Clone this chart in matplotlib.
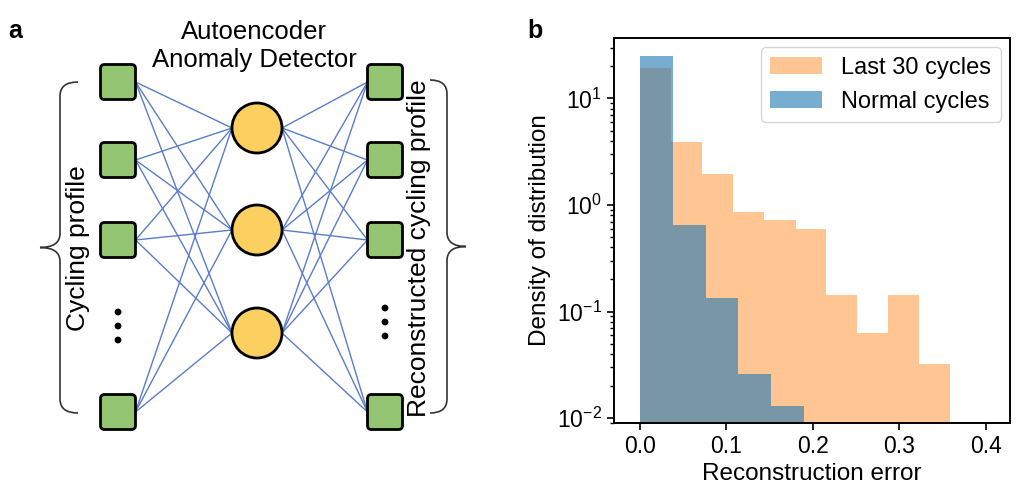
import numpy as np
import matplotlib
matplotlib.use('Agg')
import matplotlib.pyplot as plt
from matplotlib.patches import FancyBboxPatch, Circle, PathPatch
from matplotlib.path import Path

plt.rcParams['font.family'] = ['Liberation Sans', 'DejaVu Sans']

# panel b: histogram (density)
last30_edges = [0.0, 0.036, 0.072, 0.108, 0.144, 0.180, 0.215, 0.251, 0.287, 0.323, 0.359]
last30_density = [19.5, 3.9, 1.97, 0.86, 0.72, 0.59, 0.142, 0.063, 0.142, 0.032]
normal_edges = [0.0, 0.038, 0.076, 0.114, 0.152, 0.190]
normal_density = [25.2, 0.65, 0.135, 0.026, 0.013]
x_ticks = [0.0, 0.1, 0.2, 0.3, 0.4]

# panel a: labels of the diagram
diagram_title = 'Autoencoder\nAnomaly Detector'
input_label = 'Cycling profile'
output_label = 'Reconstructed cycling profile'

fig = plt.figure(figsize=(10.24, 4.97), dpi=100)

# ---------- panel a: network sketch, drawn in pixel units ----------
ax0 = fig.add_axes([0, 0, 0.5, 1])
ax0.set_xlim(0, 512)
ax0.set_ylim(497, 0)
ax0.axis('off')

sq_x_in, sq_x_out = 118, 385
sq_ys = [82, 160, 240, 412]
hid_x = 257
hid_ys = [128, 230, 333]
sq = 35
r = 25
line_col = '#5a7ccc'

for cy in hid_ys:
    for sy in sq_ys:
        ax0.plot([sq_x_in + sq / 2, hid_x - r], [sy, cy], color=line_col, lw=1.0, zorder=1)
        ax0.plot([hid_x + r, sq_x_out - sq / 2], [cy, sy], color=line_col, lw=1.0, zorder=1)

for x in (sq_x_in, sq_x_out):
    for sy in sq_ys:
        ax0.add_patch(FancyBboxPatch((x - sq / 2 + 4, sy - sq / 2 + 4), sq - 8, sq - 8,
                                     boxstyle='round,pad=4', fc='#93c572', ec='black',
                                     lw=2, zorder=3))

for cy in hid_ys:
    ax0.add_patch(Circle((hid_x, cy), r, fc='#fcd060', ec='black', lw=2, zorder=3))

# vertical ellipsis
for x, y0 in ((sq_x_in, 312), (sq_x_out, 308)):
    for k in range(3):
        ax0.add_patch(Circle((x, y0 + 14 * k), 3.4, fc='black', ec='none', zorder=3))


def brace(ax, x_end, x_mid, x_tip, y0, y1):
    ym = (y0 + y1) / 2
    c = 14
    verts = [(x_end, y0), (x_mid, y0), (x_mid, y0 + c), (x_mid, y0 + c),
             (x_mid, ym - c), (x_mid, ym), (x_tip, ym),
             (x_mid, ym), (x_mid, ym + c),
             (x_mid, y1 - c), (x_mid, y1 - c), (x_mid, y1), (x_end, y1)]
    codes = [Path.MOVETO, Path.CURVE3, Path.CURVE3, Path.LINETO,
             Path.LINETO, Path.CURVE3, Path.CURVE3,
             Path.CURVE3, Path.CURVE3,
             Path.LINETO, Path.LINETO, Path.CURVE3, Path.CURVE3]
    ax.add_patch(PathPatch(Path(verts, codes), fc='none', ec='#333333', lw=1.2))


brace(ax0, 78, 60, 40, 82, 413)
brace(ax0, 430, 447, 466, 80, 413)

ax0.text(78, 248, input_label, rotation=90, ha='center', va='center', fontsize=19)
ax0.text(419, 248, output_label, rotation=90, ha='center', va='center', fontsize=19)
ax0.text(254, 46, diagram_title, ha='center', va='center', fontsize=18.5, linespacing=1.25)
ax0.text(8, 31, 'a', ha='left', va='center', fontsize=18, fontweight='bold')

# ---------- panel b: histograms ----------
ax1 = fig.add_axes([0.5996, 0.149, 0.3867, 0.7746])
ax1.hist(last30_edges[:-1], bins=last30_edges, weights=last30_density,
         color='C1', alpha=0.45, label='Last 30 cycles')
ax1.hist(normal_edges[:-1], bins=normal_edges, weights=normal_density,
         color='C0', alpha=0.6, label='Normal cycles')
ax1.set_yscale('log')
ax1.set_ylim(0.009, 37)
ax1.set_xlim(-0.03, 0.428)
ax1.set_xticks(x_ticks)
ax1.tick_params(labelsize=16.5, length=5, width=1.2)
ax1.tick_params(which='minor', length=3, width=1)
for s in ax1.spines.values():
    s.set_linewidth(1.4)
ax1.set_xlabel('Reconstruction error', fontsize=17.5)
ax1.set_ylabel('Density of distribution', fontsize=17.5)
ax1.legend(loc='upper right', fontsize=17, handlelength=2.2, borderaxespad=0.4)
fig.text(527, 497 - 31, 'b', transform=None, ha='left', va='center',
         fontsize=18, fontweight='bold')

fig.savefig('out.png', dpi=100)
